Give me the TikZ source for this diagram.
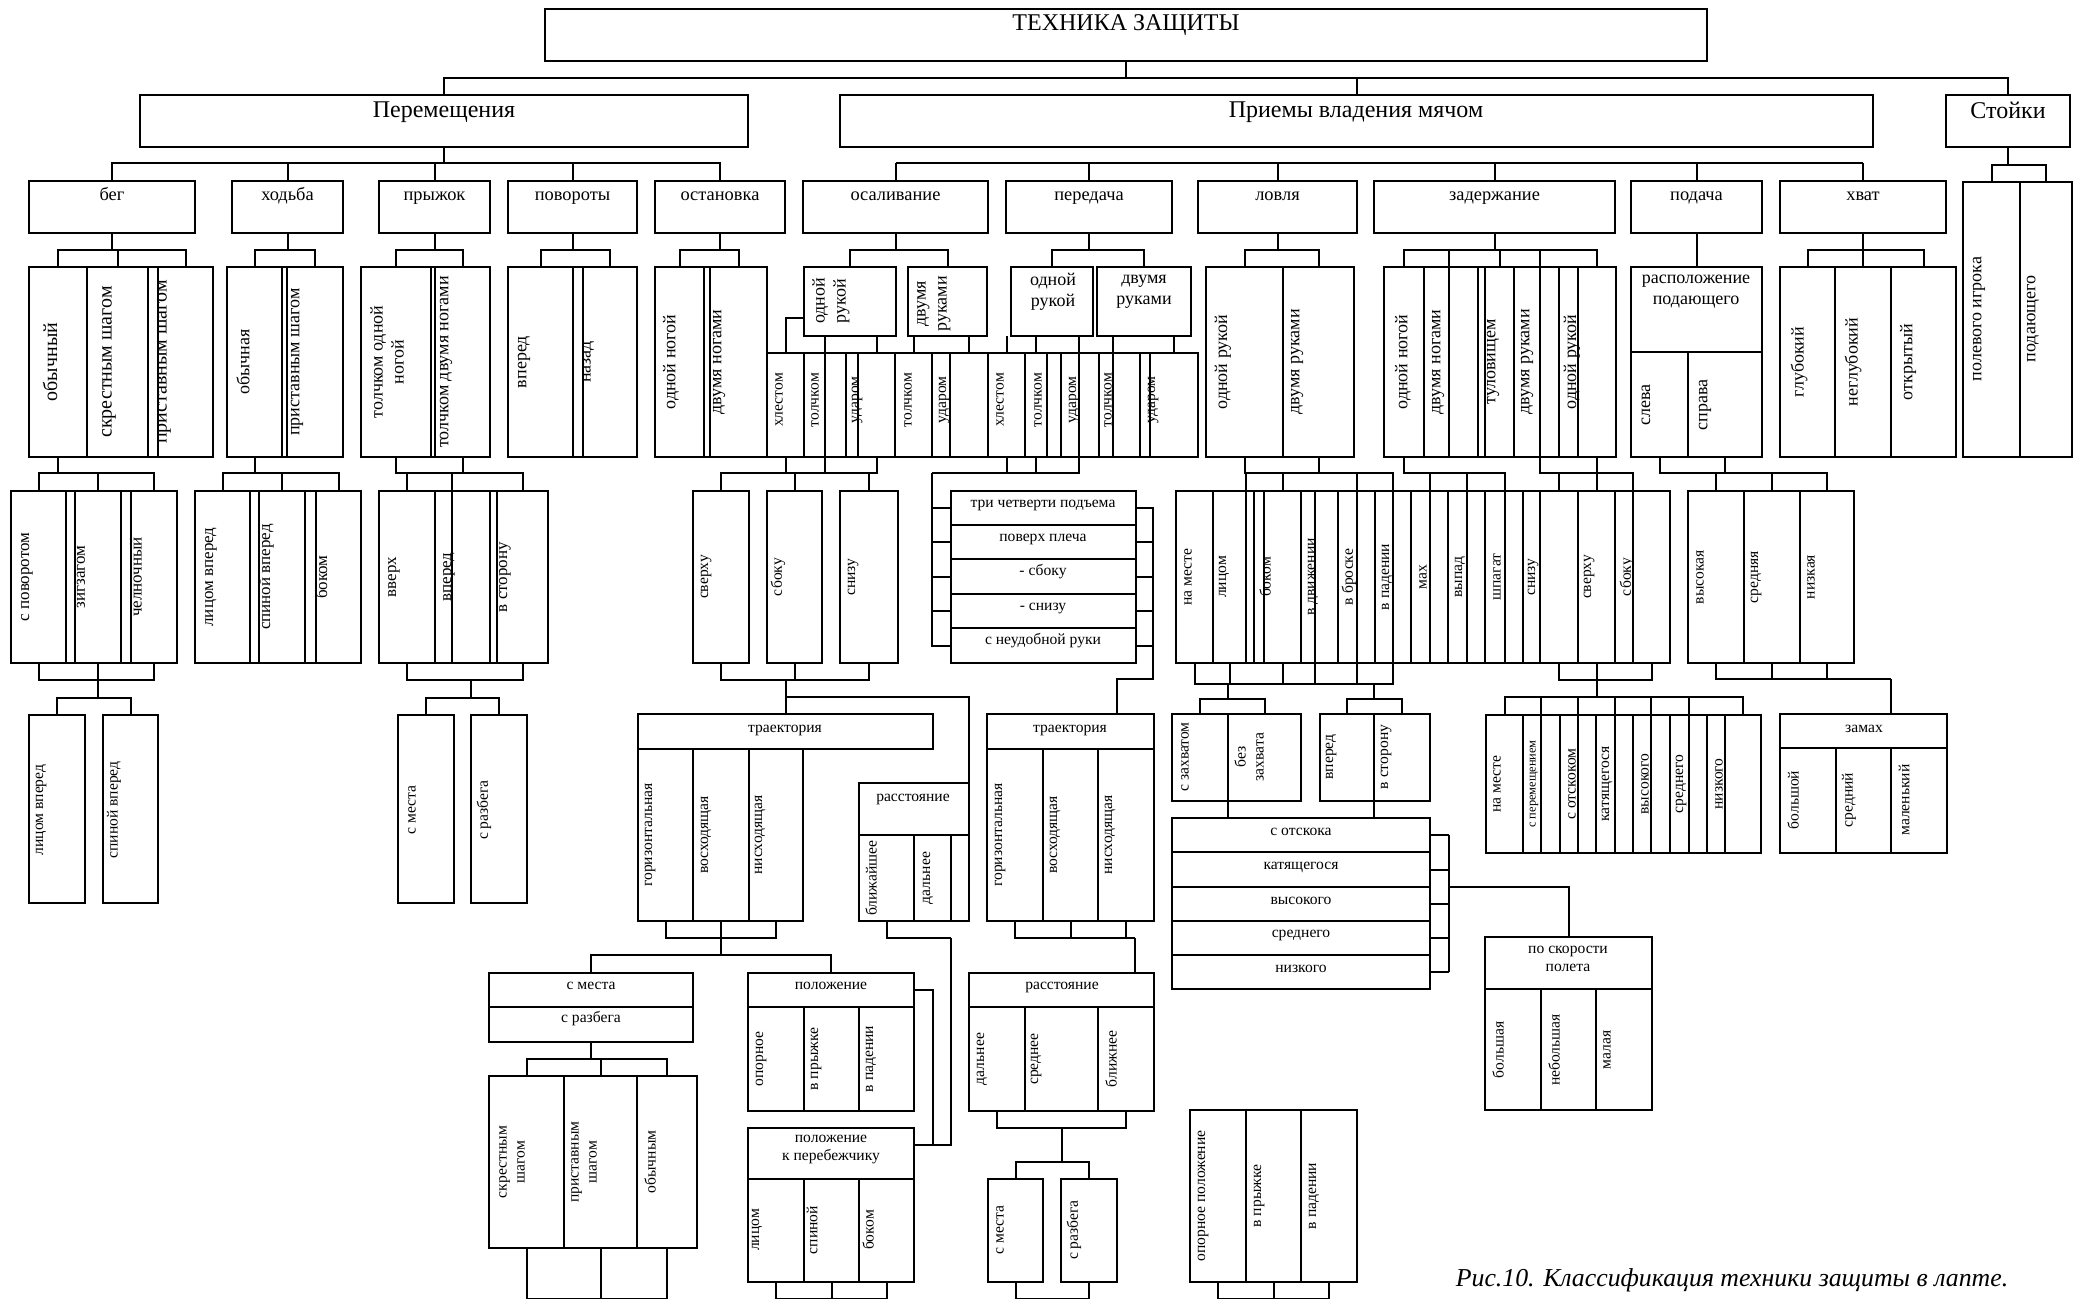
\documentclass[tikz,border=0pt]{standalone}
\usepackage{fontspec}
\setmainfont{Liberation Serif}
\usetikzlibrary{calc}

% box from corner (x1,y1) to (x2,y2), in pixel units of the sheet
\newcommand{\bx}[5]{\node[cellbox,minimum width={(#4-#2)*0.5pt},minimum height={(#5-#3)*0.5pt}] (#1) at ({(#2+#4)/2},{(#3+#5)/2}) {};}
% a row of cells side by side: prefix, y1, y2, list x1/x2
\newcommand{\cells}[4]{\foreach \xa/\xb [count=\i] in {#4} {\bx{#1\i}{\xa}{#2}{\xb}{#3}}}
\newcommand{\vlab}[5][]{\node[vt,#1] (#2) at (#3,#4) {#5};}
\newcommand{\hlab}[5][]{\node[hlb,#1] (#2) at (#3,#4) {#5};}

\begin{document}
\begin{tikzpicture}[x=0.5pt,y=-0.5pt,
    cellbox/.style={draw,line width=1pt,inner sep=0pt,outer sep=0pt},
    ln/.style={draw,line width=1pt},
    fork/.style={to path={(\tikztostart) |- ([yshift=#1]\tikztotarget) -- (\tikztotarget)}},
    fork/.default=8.5pt,
    fttl/.style={font=\fontsize{12}{14}\selectfont},
    flvl/.style={font=\fontsize{9.2}{11}\selectfont},
    fbig/.style={font=\fontsize{10}{12}\selectfont},
    fmid/.style={font=\fontsize{9}{10.5}\selectfont},
    fl4/.style={font=\fontsize{8.5}{10}\selectfont},
    fsml/.style={font=\fontsize{7.8}{9}\selectfont},
    ftiny/.style={font=\fontsize{6.2}{7}\selectfont},
    vt/.style={rotate=90,inner sep=0pt,align=center,fsml},
    hlb/.style={inner sep=0pt,anchor=base,fsml},
    hcb/.style={inner sep=0pt,align=center,fsml}]
\useasboundingbox (0,0) rectangle (2075,1299);

% ---------- top levels
\bx{tz}{545}{9}{1707}{61}
\bx{per}{140}{95}{748}{147}
\bx{pri}{840}{95}{1873}{147}
\bx{sto}{1946}{95}{2070}{147}
\hlab[fttl]{ttz}{1126}{31}{ТЕХНИКА ЗАЩИТЫ}
\hlab[fttl]{tper}{444}{118}{Перемещения}
\hlab[fttl]{tpri}{1356}{118}{Приемы владения мячом}
\hlab[fttl]{tsto}{2008}{119}{Стойки}
\foreach \cc in {per,pri,sto} \path (tz.south) edge[ln,fork] (\cc.north);

% ---------- level 2
\foreach \nm/\xa/\xb/\tx in {beg/29/195/бег,hod/232/343/ходьба,pry/379/490/прыжок,
    pov/508/637/повороты,ost/655/785/остановка,osa/803/988/осаливание,pe/1006/1172/передача,
    lov/1198/1357/ловля,zad/1374/1615/задержание,pod/1631/1762/подача,hva/1780/1946/хват}
  {\bx{\nm}{\xa}{181}{\xb}{233}
   \node[hlb,flvl] (t\nm) at ([yshift=3pt]\nm.center) {\tx};}
\foreach \cc in {beg,hod,pry,pov,ost} \path (per.south) edge[ln,fork=9pt] (\cc.north);
\draw[ln] ([yshift=9pt]osa.north) -- ([yshift=9pt]hva.north);
\foreach \cc in {osa,pe,lov,zad,pod,hva} \draw[ln] (\cc.north) -- ([yshift=9pt]\cc.north);

\cells{st}{182}{457}{1963/2020,2020/2072}
\foreach \cc in {st1,st2} \path (sto.south) edge[ln,fork] (\cc.north);
\vlab[fmid]{tst1}{1979}{319}{полевого игрока}
\vlab[fmid]{tst2}{2033}{319}{подающего}

% ---------- level 3
\cells{B}{267}{457}{29/87,87/148,148/158,158/213}
\cells{H}{267}{457}{227/282,282/287,287/343}
\cells{P}{267}{457}{361/431,431/435,435/490}
\cells{V}{267}{457}{508/573,573/583,583/637}
\cells{O}{267}{457}{655/704,704/710,710/767}
\bx{or1}{804}{267}{896}{336}
\bx{or2}{908}{267}{987}{336}
\bx{pe1}{1011}{267}{1093}{336}
\bx{pe2}{1097}{267}{1191}{336}
\cells{K}{353}{457}{767/804,804/846,846/858,858/895,895/932,932/950,950/988,988/1025,1025/1047,1047/1061,1061/1079,1079/1099,1099/1113,1113/1140,1140/1150,1150/1198}
\cells{L}{267}{457}{1206/1283,1283/1354}
\cells{Z}{267}{457}{1384/1424,1424/1449,1449/1478,1478/1485,1485/1514,1514/1540,1540/1559,1559/1578,1578/1616}
\bx{pd}{1631}{267}{1762}{352}
\cells{D}{352}{457}{1631/1688,1688/1762}
\cells{X}{267}{457}{1780/1835,1835/1891,1891/1956}

\vlab[fbig]{tb1}{50}{362}{обычный}
\vlab[fbig]{tb2}{109}{362}{скрестным шагом}
\vlab[fbig]{tb3}{164}{362}{приставным шагом}
\vlab[fmid]{th1}{243}{362}{обычная}
\vlab[fmid]{th2}{297}{362}{приставным шагом}
\vlab[fmid]{tp1}{387}{362}{толчком одной\\ногой}
\vlab[fmid]{tp2}{446}{362}{толчком двумя ногами}
\vlab[fmid]{tv1}{524}{362}{вперед}
\vlab[fmid]{tv2}{588}{362}{назад}
\vlab[fmid]{to1}{671}{362}{одной ногой}
\vlab[fmid]{to2}{719}{362}{двумя ногами}
\vlab[fmid]{tor1}{831}{301}{одной\\рукой}
\vlab[fmid]{tor2}{934}{304}{двумя\\руками}
\node[hcb,fmid] (tpe1) at (1053,292) {одной\\рукой};
\node[hcb,fmid] (tpe2) at (1144,292) {двумя\\руками};
\foreach \xx/\tx [count=\i] in {779/хлестом,815/толчком,857/ударом,908/толчком,944/ударом,
    1000/хлестом,1038/толчком,1074/ударом,1108/толчком,1153/ударом}
  {\vlab{tk\i}{\xx}{400}{\tx}}
\vlab[fmid]{tl1}{1223}{362}{одной рукой}
\vlab[fmid]{tl2}{1297}{362}{двумя руками}
\foreach \xx/\tx [count=\i] in {1403/одной ногой,1438/двумя ногами,1493/туловищем,1527/двумя руками,1572/одной рукой}
  {\vlab[fmid]{tz\i}{\xx}{362}{\tx}}
\node[hcb,fmid] (tpd) at (1696,292) {расположение\\подающего};
\vlab[fmid]{td1}{1646}{405}{слева}
\vlab[fmid]{td2}{1705}{405}{справа}
\vlab[fmid]{tx1}{1799}{362}{глубокий}
\vlab[fmid]{tx2}{1853}{362}{неглубокий}
\vlab[fmid]{tx3}{1908}{362}{открытый}

\foreach \cc in {B1,B2,B4} \path (beg.south) edge[ln,fork] (\cc.north);
\foreach \cc in {H1,H3} \path (hod.south) edge[ln,fork] (\cc.north);
\foreach \cc in {P1,P3} \path (pry.south) edge[ln,fork] (\cc.north);
\foreach \cc in {V1,V3} \path (pov.south) edge[ln,fork] (\cc.north);
\foreach \cc in {O1,O3} \path (ost.south) edge[ln,fork] (\cc.north);
\foreach \cc in {or1,or2} \path (osa.south) edge[ln,fork] (\cc.north);
\foreach \cc in {pe1,pe2} \path (pe.south) edge[ln,fork] (\cc.north);
\foreach \cc in {L1,L2} \path (lov.south) edge[ln,fork] (\cc.north);
\foreach \cc in {Z1.north,Z2.north east,Z5.north,Z6.north east,Z9.north} \path (zad.south) edge[ln,fork] (\cc);
\draw[ln] (pod.south) -- (pd.north);
\foreach \cc in {X1,X2,X3} \path (hva.south) edge[ln,fork] (\cc.north);

% hand / stroke cells
\draw[ln] ([yshift=9pt]or1.south west) -| (K1.north);
\foreach \cc in {K2.north,K4.north} \draw[ln] (or1.south -| \cc) -- (\cc);
\draw[ln] (K2.north) -- (K2.south);
\foreach \cc in {K5.north,K7.north} \draw[ln] (or2.south -| \cc) -- (\cc);
\foreach \cc in {K8.north,K9.north,K11.north east} \draw[ln] (pe1.south -| \cc) -- (\cc);
\foreach \cc in {K14.north west,K16.north} \draw[ln] (pe2.south -| \cc) -- (\cc);

% ---------- level 4
\cells{G}{491}{663}{11/66,66/75,75/121,121/131,131/177}
\cells{W}{491}{663}{195/250,250/259,259/305,305/316,316/361}
\cells{J}{491}{663}{379/435,435/452,452/490,490/497,497/548}
\bx{sv}{693}{491}{749}{663}
\bx{sb}{767}{491}{822}{663}
\bx{sn}{840}{491}{898}{663}
\foreach \ya/\yb [count=\i] in {491/525,525/559,559/594,594/628,628/663} {\bx{Q\i}{951}{\ya}{1136}{\yb}}
\cells{M}{491}{663}{1176/1213,1213/1246,1246/1254,1254/1264,1264/1301,1301/1315,1315/1338,1338/1357,1357/1375,1375/1393,1393/1411,1411/1430,1430/1448,1448/1467,1467/1485,1485/1505,1505/1523,1523/1540,1540/1578,1578/1615,1615/1633,1633/1670}
\cells{Y}{491}{663}{1688/1744,1744/1800,1800/1854}

\vlab[fl4]{tg1}{27}{577}{с поворотом}
\vlab[fl4]{tg2}{81}{577}{зигзагом}
\vlab[fl4]{tg3}{136}{577}{челночный}
\vlab[fl4]{tw1}{211}{577}{лицом вперед}
\vlab[fl4]{tw2}{266}{577}{спиной вперед}
\vlab[fl4]{tw3}{321}{577}{боком}
\vlab[fl4]{tj1}{394}{577}{вверх}
\vlab[fl4]{tj2}{449}{577}{вперед}
\vlab[fl4]{tj3}{505}{577}{в сторону}
\vlab{tsv}{706}{577}{сверху}
\vlab{tsb}{778}{577}{сбоку}
\vlab{tsn}{853}{577}{снизу}
\foreach \yy/\tx [count=\i] in {507/три четверти подъема,541/поверх плеча,575/- сбоку,610/- снизу,644/с неудобной руки}
  {\hlab{tq\i}{1043}{\yy}{\tx}}
\foreach \xx/\tx [count=\i] in {1188/на месте,1224/лицом,1265/боком,1313/в движении,1349/в броске,1387/в падении,
    1423/мах,1460/выпад,1497/шпагат,1533/снизу,1589/сверху,1627/сбоку}
  {\vlab{tm\i}{\xx}{577}{\tx}}
\vlab{ty1}{1700}{577}{высокая}
\vlab{ty2}{1756}{577}{средняя}
\vlab{ty3}{1811}{577}{низкая}

\foreach \cc in {G1,G3,G5} \path (B1.south) edge[ln,fork=9pt] (\cc.north);
\foreach \cc in {W1,W3,W5} \path (H1.south) edge[ln,fork=9pt] (\cc.north);
\foreach \cc in {J1.north,J2.north east,J5.north} \path (P1.south) edge[ln,fork=9pt] (\cc);
\path (P3.south) edge[ln,fork=9pt] (J2.north east);
\path (K1.south) edge[ln,fork=9pt] (sv.north) edge[ln,fork=9pt] (sb.north);
\path (K2.south) edge[ln,fork=9pt] (sb.north);
\path (K4.south) edge[ln,fork=9pt] (sb.north) edge[ln,fork=9pt] (sn.north);
% throw types: spines on both sides
\coordinate (jq) at ([xshift=-9.5pt,yshift=9pt]Q1.north west);
\foreach \cc in {K8.south,K9.south,K11.south east} \draw[ln] (\cc) |- (jq);
\draw[ln] (jq) |- (Q5.west);
\foreach \i in {1,...,4} \draw[ln] (Q\i.west) -- (Q\i.west -| jq);
\coordinate (rq) at ([xshift=8.5pt]Q1.east);
\foreach \i in {2,...,5} \draw[ln] (Q\i.east) -- (Q\i.east -| rq);
\foreach \cc in {M2.north east,M5.north,M8.north east,M10.north east} \path (L1.south) edge[ln,fork=9pt] (\cc);
\path (L2.south) edge[ln,fork=9pt] (M8.north east);
\foreach \cc in {M12.north east,M14.north east,M16.north east} \path (Z1.south) edge[ln,fork=9pt] (\cc);
\foreach \cc in {M19.north,M20.north,M21.north east} \path (Z6.south east) edge[ln,fork=9pt] (\cc);
\path (Z9.south) edge[ln,fork=9pt] (M20.north);
\foreach \cc in {Y1,Y2,Y3} \path (D2.south) edge[ln,fork=9pt] (\cc.north);
\path (D1.south) edge[ln,fork=9pt] (Y1.north);

% ---------- level 5
\bx{lv1}{29}{715}{85}{903}
\bx{lv2}{103}{715}{158}{903}
\bx{sm1}{398}{715}{454}{903}
\bx{sr1}{471}{715}{527}{903}
\bx{T1}{638}{714}{933}{749}
\cells{TA}{749}{921}{638/693,693/749,749/803}
\bx{R1}{859}{783}{969}{835}
\cells{RA}{835}{921}{859/914,914/951,951/969}
\bx{T2}{987}{714}{1154}{749}
\cells{TB}{749}{921}{987/1043,1043/1098,1098/1154}
\cells{C}{714}{801}{1172/1228,1228/1301}
\cells{U}{714}{801}{1320/1374,1374/1430}
\foreach \ya/\yb [count=\i] in {818/852,852/887,887/921,921/955,955/989} {\bx{S\i}{1172}{\ya}{1430}{\yb}}
\cells{N}{715}{853}{1486/1523,1523/1541,1541/1560,1560/1578,1578/1596,1596/1615,1615/1633,1633/1651,1651/1670,1670/1689,1689/1707,1707/1725,1725/1761}
\bx{ZM}{1780}{714}{1947}{748}
\cells{ZA}{748}{853}{1780/1836,1836/1891,1891/1947}
\bx{PS}{1485}{937}{1652}{989}
\cells{PA}{989}{1110}{1485/1541,1541/1596,1596/1652}

\vlab{tlv1}{41}{810}{лицом вперед}
\vlab{tlv2}{114}{810}{спиной вперед}
\vlab{tsm1}{412}{810}{с места}
\vlab{tsr1}{484}{810}{с разбега}
\hlab{tT1}{785}{732}{траектория}
\vlab{tta1}{650}{835}{горизонтальная}
\vlab{tta2}{706}{835}{восходящая}
\vlab{tta3}{760}{835}{нисходящая}
\hlab{tR1}{913}{801}{расстояние}
\vlab{tra1}{871}{878}{ближайшее}
\vlab{tra2}{928}{878}{дальнее}
\hlab{tT2}{1070}{732}{траектория}
\vlab{ttb1}{1000}{835}{горизонтальная}
\vlab{ttb2}{1055}{835}{восходящая}
\vlab{ttb3}{1110}{835}{нисходящая}
\vlab{tc1}{1185}{757}{с захватом}
\vlab{tc2}{1249}{757}{без\\захвата}
\vlab{tu1}{1331}{757}{вперед}
\vlab{tu2}{1386}{757}{в сторону}
\foreach \yy/\tx [count=\i] in {835/с отскока,869/катящегося,904/высокого,937/среднего,972/низкого}
  {\hlab{ts\i}{1301}{\yy}{\tx}}
\foreach \xx/\tx [count=\i] in {1497/на месте,1572/с отскоком,1607/катящегося,1645/высокого,1681/среднего,1719/низкого}
  {\vlab{tn\i}{\xx}{784}{\tx}}
\vlab[ftiny]{tn7}{1534}{784}{с перемещением}
\hlab{tzm}{1864}{732}{замах}
\vlab{tza1}{1793}{800}{большой}
\vlab{tza2}{1849}{800}{средний}
\vlab{tza3}{1904}{800}{маленький}
\node[hcb] (tps) at (1568,959) {по скорости\\полета};
\vlab{tpa1}{1498}{1050}{большая}
\vlab{tpa2}{1554}{1050}{небольшая}
\vlab{tpa3}{1607}{1050}{малая}

\coordinate (jg) at ([yshift=-8.5pt]G3.south);
\foreach \cc in {G1,G5} \draw[ln] (\cc.south) |- (jg);
\draw[ln] (G3.south) -- (jg);
\path (jg) edge[ln,fork] (lv1.north) edge[ln,fork] (lv2.north);
\coordinate (jj) at ([yshift=-8.5pt]J3.south);
\foreach \cc in {J1,J5} \draw[ln] (\cc.south) |- (jj);
\path (jj) edge[ln,fork] (sm1.north) edge[ln,fork] (sr1.north);
\coordinate (jt) at ([yshift=17pt]T1.north);
\foreach \cc in {sv,sb,sn} \draw[ln] (\cc.south) |- (jt);
\draw[ln] (jt) -- (T1.north);
\draw[ln] ([yshift=8.5pt]T1.north) -| (R1.north east);
\draw[ln] (Q1.east) -- (rq) |- ([xshift=-18.5pt,yshift=17.5pt]T2.north east) -- ([xshift=-18.5pt]T2.north east);
\coordinate (jc1) at ([yshift=15pt]C1.north east);
\coordinate (jc2) at ([yshift=15pt]U1.north east);
\foreach \cc in {M1.south,M2.south,M5.south} \draw[ln] (\cc) |- (jc1);
\foreach \cc in {M6.south east,M8.south east,M10.south east} \draw[ln] (\cc) |- (jc2);
\draw[ln] (jc1) -- (jc2);
\path (jc1) edge[ln,fork=7.5pt] (C1.north) edge[ln,fork=7.5pt] (C2.north);
\path (jc2) edge[ln,fork=7.5pt] (U1.north) edge[ln,fork=7.5pt] (U2.north);
\foreach \cc in {C1,U1} \draw[ln] (\cc.south east) -- (\cc.south east |- S1.north);
\coordinate (js) at ([xshift=9.5pt]S1.east);
\foreach \i in {1,...,5} \draw[ln] (S\i.east) -- (S\i.east -| js);
\draw[ln] (js) -- (js |- S5.east);
\draw[ln] (S3.north east -| js) -| (PS.north);
\coordinate (jn) at ([yshift=-8.5pt]M20.south);
\foreach \cc in {M19,M22} \draw[ln] (\cc.south) |- (jn);
\draw[ln] (M20.south) -- (jn);
\foreach \cc in {N1.north,N2.north east,N4.north east,N6.north east,N8.north east,N10.north east,N13.north}
  \path (jn) edge[ln,fork=9pt] (\cc);
\coordinate (jy) at ([xshift=-28pt,yshift=17.5pt]ZM.north east);
\foreach \cc in {Y1,Y2,Y3} \draw[ln] (\cc.south) |- (jy);
\draw[ln] (jy) -- ([xshift=-28pt]ZM.north east);

% ---------- level 6
\bx{SM}{489}{973}{693}{1007}
\bx{SR}{489}{1007}{693}{1042}
\cells{SS}{1076}{1248}{489/564,564/637,637/697}
\bx{PL}{748}{973}{914}{1007}
\cells{PLA}{1007}{1111}{748/804,804/859,859/914}
\bx{PK}{748}{1128}{914}{1179}
\cells{PKA}{1179}{1282}{748/804,804/859,859/914}
\bx{R2}{969}{973}{1154}{1007}
\cells{RB}{1007}{1111}{969/1025,1025/1098,1098/1154}
\bx{sm2}{988}{1179}{1043}{1282}
\bx{sr2}{1061}{1179}{1117}{1282}
\cells{OP}{1110}{1282}{1190/1246,1246/1301,1301/1357}

\hlab{tSM}{591}{989}{с места}
\hlab{tSR}{591}{1022}{с разбега}
\vlab{tss1}{512}{1162}{скрестным\\шагом}
\vlab{tss2}{584}{1162}{приставным\\шагом}
\vlab{tss3}{650}{1162}{обычным}
\hlab{tPL}{831}{989}{положение}
\vlab{tpl1}{761}{1059}{опорное}
\vlab{tpl2}{816}{1059}{в прыжке}
\vlab{tpl3}{871}{1059}{в падении}
\node[hcb] (tPK) at (831,1149) {положение\\к перебежчику};
\vlab{tpk1}{757}{1230}{лицом}
\vlab{tpk2}{812}{1230}{спиной}
\vlab{tpk3}{868}{1230}{боком}
\hlab{tR2}{1062}{989}{расстояние}
\vlab{trb1}{982}{1059}{дальнее}
\vlab{trb2}{1036}{1059}{среднее}
\vlab{trb3}{1111}{1059}{ближнее}
\vlab{tsm2}{1000}{1230}{с места}
\vlab{tsr2}{1074}{1230}{с разбега}
\vlab{top1}{1203}{1196}{опорное положение}
\vlab{top2}{1259}{1196}{в прыжке}
\vlab{top3}{1314}{1196}{в падении}

\coordinate (ja) at ([yshift=-8.5pt]TA2.south);
\foreach \cc in {TA1,TA3} \draw[ln] (\cc.south) |- (ja);
\draw[ln] (TA2.south) -- (ja);
\path (ja) edge[ln,fork=9pt] (SM.north) edge[ln,fork=9pt] (PL.north);
\coordinate (jr) at ([yshift=-8.5pt]RA2.south east);
\draw[ln] (RA1.south) |- (jr);
\draw[ln] (jr) |- ([yshift=-8.5pt]PK.north east);
\draw[ln] (PL.east) -| ([xshift=9.5pt,yshift=-8.5pt]PK.north east);
\foreach \i in {1,2,3} \path (SR.south) edge[ln,fork] (SS\i.north);
\coordinate (jb) at ([xshift=-9.5pt,yshift=17.5pt]R2.north east);
\foreach \i in {1,2,3} \draw[ln] (TB\i.south) |- (jb);
\draw[ln] (jb) -- ([xshift=-9.5pt]R2.north east);
\coordinate (jd) at ([yshift=-8.5pt]RB2.south);
\foreach \cc in {RB1,RB3} \draw[ln] (\cc.south) |- (jd);
\path (jd) edge[ln,fork] (sm2.north) edge[ln,fork] (sr2.north);
% lines running off the sheet
\coordinate (e1) at ([yshift=-25.7pt]SS2.south);
\foreach \cc in {SS1,SS3} \draw[ln] (\cc.south) |- (e1);
\draw[ln] (SS2.south) -- (e1);
\coordinate (e2) at ([yshift=-8.7pt]PKA2.south);
\foreach \cc in {PKA1,PKA3} \draw[ln] (\cc.south) |- (e2);
\draw[ln] (PKA2.south) -- (e2);
\coordinate (e3) at ([yshift=-8.7pt]sr2.south);
\draw[ln] (sm2.south) |- (e3) -- (sr2.south);
\coordinate (e4) at ([yshift=-8.7pt]OP2.south);
\foreach \cc in {OP1,OP3} \draw[ln] (\cc.south) |- (e4);
\draw[ln] (OP2.south) -- (e4);

\node[inner sep=0pt,anchor=base,font=\fontsize{12.9}{15}\selectfont\itshape] (cap) at (1732,1286) {Рис.10. Классификация техники защиты в лапте.};
\end{tikzpicture}
\end{document}
